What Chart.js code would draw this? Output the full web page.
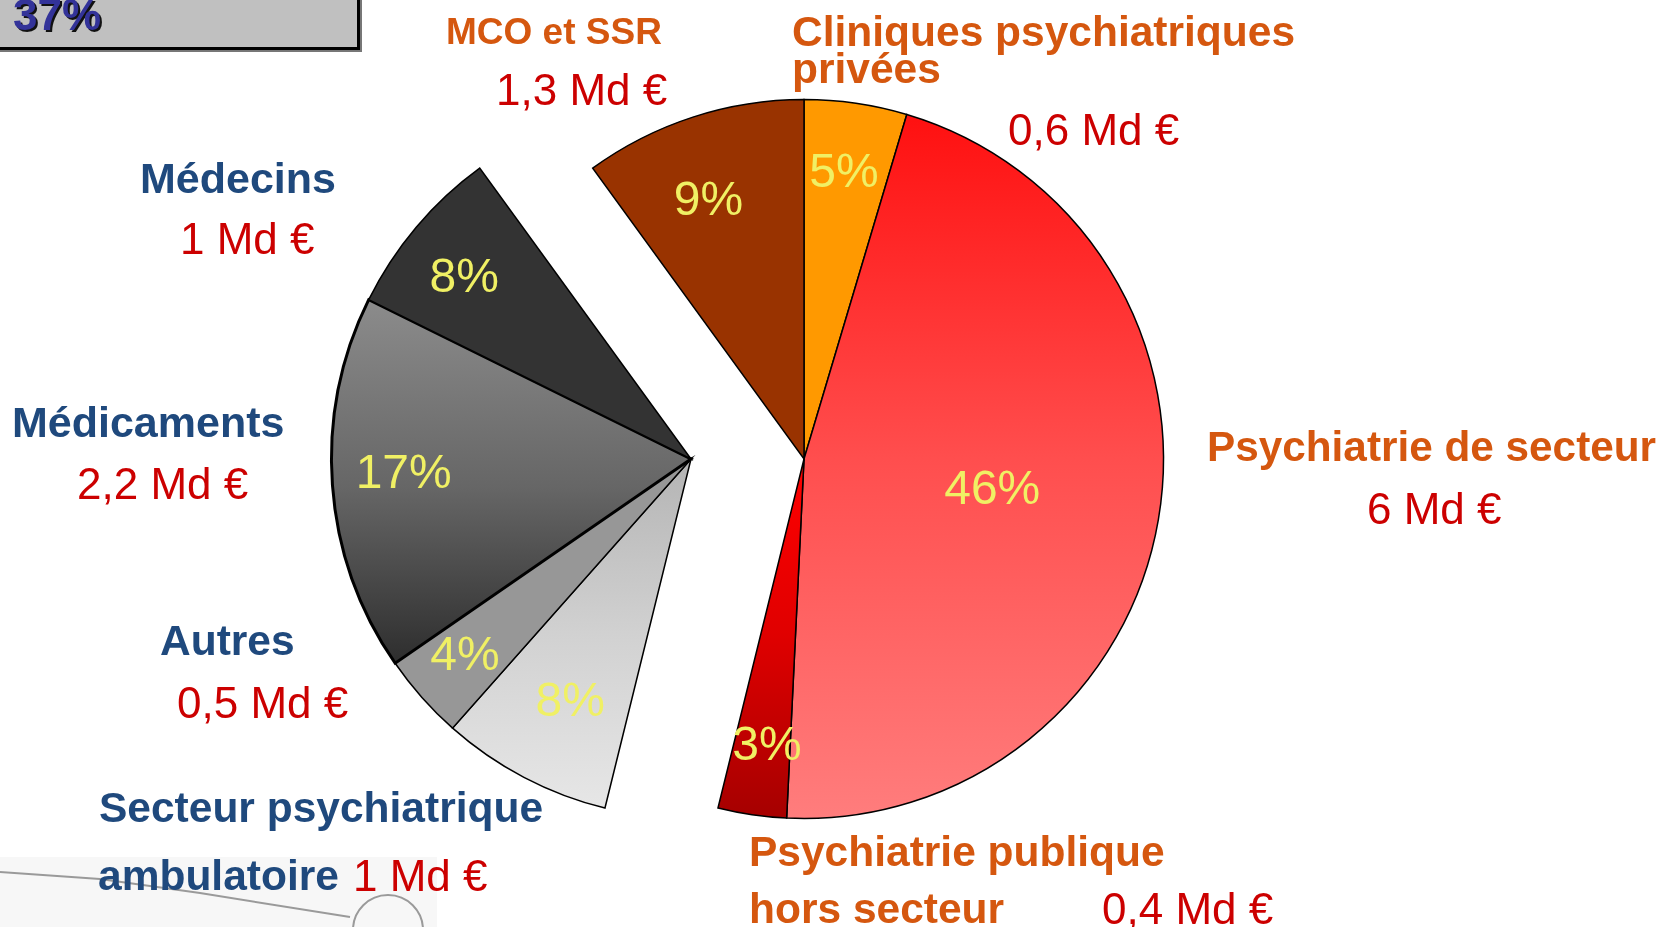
<!DOCTYPE html>
<html lang="fr">
<head>
<meta charset="utf-8">
<title>Dépenses de psychiatrie</title>
<script src="https://cdn.jsdelivr.net/npm/chart.js@4/dist/chart.umd.min.js"></script>
<style>
    html, body { margin:0; padding:0; background:#fff; overflow:hidden; }
    body { width:1665px; height:927px; position:relative; font-family:"Liberation Sans", Arial, sans-serif; }
    #fond { position:absolute; left:0; top:0; z-index:0; }
    #camembert { position:absolute; left:0; top:0; z-index:1; }
    .txt { position:absolute; white-space:nowrap; line-height:1; z-index:2; }
    .b { font-weight:bold; }
    .orange { color:#d5570f; }
    .bleu { color:#1f497d; }
    .rouge { color:#cc0000; }
    .pct { position:absolute; z-index:3; color:#f0f064; font-size:48px; line-height:1; transform:translate(-50%,-50%); white-space:nowrap; }
    #encadre { position:absolute; left:-6px; top:-20px; width:360px; height:64px; background:#c0c0c0;
               border:3px solid #000; box-shadow:2px 2px 0 #777; z-index:2; }
    #encadre span { position:absolute; left:16px; top:10px; font-size:44px; font-weight:bold; color:#333399;
                    text-shadow:2px 2px 0 #111; line-height:1; }
</style>
</head>
<body>
<svg id="fond" width="1665" height="927">
    <rect x="0" y="857" width="437" height="70" fill="#f7f7f7"/>
    <polyline points="0,872 100,879 200,893 350,917" fill="none" stroke="#9a9a9a" stroke-width="2"/>
    <circle cx="388" cy="930" r="35" fill="none" stroke="#9a9a9a" stroke-width="2"/>
</svg>
<div id="encadre"><span>37%</span></div>
<canvas id="camembert" width="1665" height="927"></canvas>
<div id="textes"></div>

<script>
// Données (sens horaire depuis midi)
const categories = ['Cliniques psychiatriques privées', 'Psychiatrie de secteur', 'Psychiatrie publique hors secteur',
    'Secteur psychiatrique ambulatoire', 'Autres', 'Médicaments', 'Médecins', 'MCO et SSR'];
const valeurs = [0.6, 6, 0.4, 1, 0.5, 2.2, 1, 1.3];          // Md €
const pourcentages = ['5%', '46%', '3%', '8%', '4%', '17%', '8%', '9%'];
const groupeDecale = [3, 4, 5, 6];                              // parts sorties vers la gauche

// Mise en forme
const decalageX = -113;
const rayonEtiquette = [0.81, 0.53, 0.8, 0.75, 0.83, 0.8, 0.81, 0.77];
const angleEtiquette = [-0.4, -0.8, -0.9, -1.1, 0.8, 1.5, -1.3, -2.2];   // degrés
const bordures = [1.5, 1.5, 1.5, 1.5, 1.5, 3, 1.5, 1.5];
const remplissages = [
    '#ff9900',
    {haut:-1, bas:1, couleurs:['#ff0d0d', '#ff4e4e', '#ff7d7d']},
    {haut:0, bas:0.97, couleurs:['#ff0000', '#e00000', '#a80000']},
    {haut:0, bas:1, couleurs:['#b4b4b4', '#d2d2d2', '#e8e8e8']},
    '#979797',
    {haut:-0.42, bas:0.58, couleurs:['#8a8a8a', '#666666', '#2c2c2c']},
    '#333333',
    '#993300'
];

function fmt(v){
    return v.toLocaleString('fr-FR') + ' Md €';
}

function couleurPart(c){
    const r = remplissages[c.dataIndex];
    if(typeof r === 'string') return r;
    const zone = c.chart.chartArea;
    if(!zone) return r.couleurs[1];
    const cy = (zone.top + zone.bottom) / 2;
    const ray = (zone.bottom - zone.top) / 2;
    const g = c.chart.ctx.createLinearGradient(0, cy + r.haut*ray, 0, cy + r.bas*ray);
    r.couleurs.forEach((col, i)=> g.addColorStop(i/(r.couleurs.length-1), col));
    return g;
}

// Libellés (texte réel en HTML)
const textes = document.getElementById('textes');
function poser(html, x, base, taille, classes){
    const d = document.createElement('div');
    d.className = 'txt ' + classes;
    d.style.fontSize = taille + 'px';
    d.style.left = x + 'px';
    d.style.top = (base - 0.8465*taille) + 'px';
    d.innerHTML = html;
    textes.appendChild(d);
}

poser('MCO et SSR', 446, 44, 37, 'b orange');
poser(fmt(valeurs[7]), 496, 105, 44, 'rouge');
poser('Cliniques psychiatriques', 792, 47, 42.5, 'b orange');
poser('privées', 792, 84, 42.5, 'b orange');
poser(fmt(valeurs[0]), 1008, 145, 44, 'rouge');
poser('Médecins', 140, 193, 43, 'b bleu');
poser(fmt(valeurs[6]), 180, 254, 44, 'rouge');
poser('Médicaments', 12, 437, 43, 'b bleu');
poser(fmt(valeurs[5]), 77, 499, 44, 'rouge');
poser('Autres', 160, 656, 42.5, 'b bleu');
poser(fmt(valeurs[4]), 177, 718, 44, 'rouge');
poser('Secteur psychiatrique', 99, 823, 42.5, 'b bleu');
poser('ambulatoire', 98, 891, 42.5, 'b bleu');
poser(fmt(valeurs[3]), 353, 891, 44, 'rouge');
poser('Psychiatrie de secteur', 1207, 462, 42.3, 'b orange');
poser(fmt(valeurs[1]), 1367, 524, 44, 'rouge');
poser('Psychiatrie publique', 749, 867, 42.5, 'b orange');
poser('hors secteur', 749, 924, 42.5, 'b orange');
poser(fmt(valeurs[2]), 1102, 924, 44, 'rouge');

const etiquettesPct = pourcentages.map(p=>{
    const d = document.createElement('div');
    d.className = 'pct';
    d.textContent = p;
    document.body.appendChild(d);
    return d;
});

// Décalage du groupe de parts vers la gauche
const decalage = {
    id: 'decalage',
    afterDatasetsUpdate(chart){
        const meta = chart.getDatasetMeta(0);
        groupeDecale.forEach(i=>{ meta.data[i].x += decalageX; });
    }
};

// Pourcentages placés sur chaque part
const placePct = {
    id: 'placePct',
    afterDraw(chart){
        const meta = chart.getDatasetMeta(0);
        meta.data.forEach((arc, i)=>{
            const {x, y, startAngle, endAngle, outerRadius} = arc.getProps(['x','y','startAngle','endAngle','outerRadius'], true);
            const mil = (startAngle + endAngle) / 2 + angleEtiquette[i] * Math.PI / 180;
            const r = outerRadius * rayonEtiquette[i];
            etiquettesPct[i].style.left = (x + Math.cos(mil)*r) + 'px';
            etiquettesPct[i].style.top = (y + Math.sin(mil)*r) + 'px';
        });
    }
};

const ctx = document.getElementById('camembert').getContext('2d');
new Chart(ctx, {
    type: 'pie',
    data: {
        labels: categories,
        datasets: [{
            data: valeurs,
            backgroundColor: couleurPart,
            borderColor: '#000',
            borderWidth: bordures,
            borderJoinStyle: 'miter'
        }]
    },
    options: {
        responsive: false,
        animation: false,
        events: [],
        layout: { padding: { left:443, right:500, top:98, bottom:107 } },
        plugins: { legend:{ display:false }, tooltip:{ enabled:false } }
    },
    plugins: [decalage, placePct]
});
</script>
</body>
</html>
